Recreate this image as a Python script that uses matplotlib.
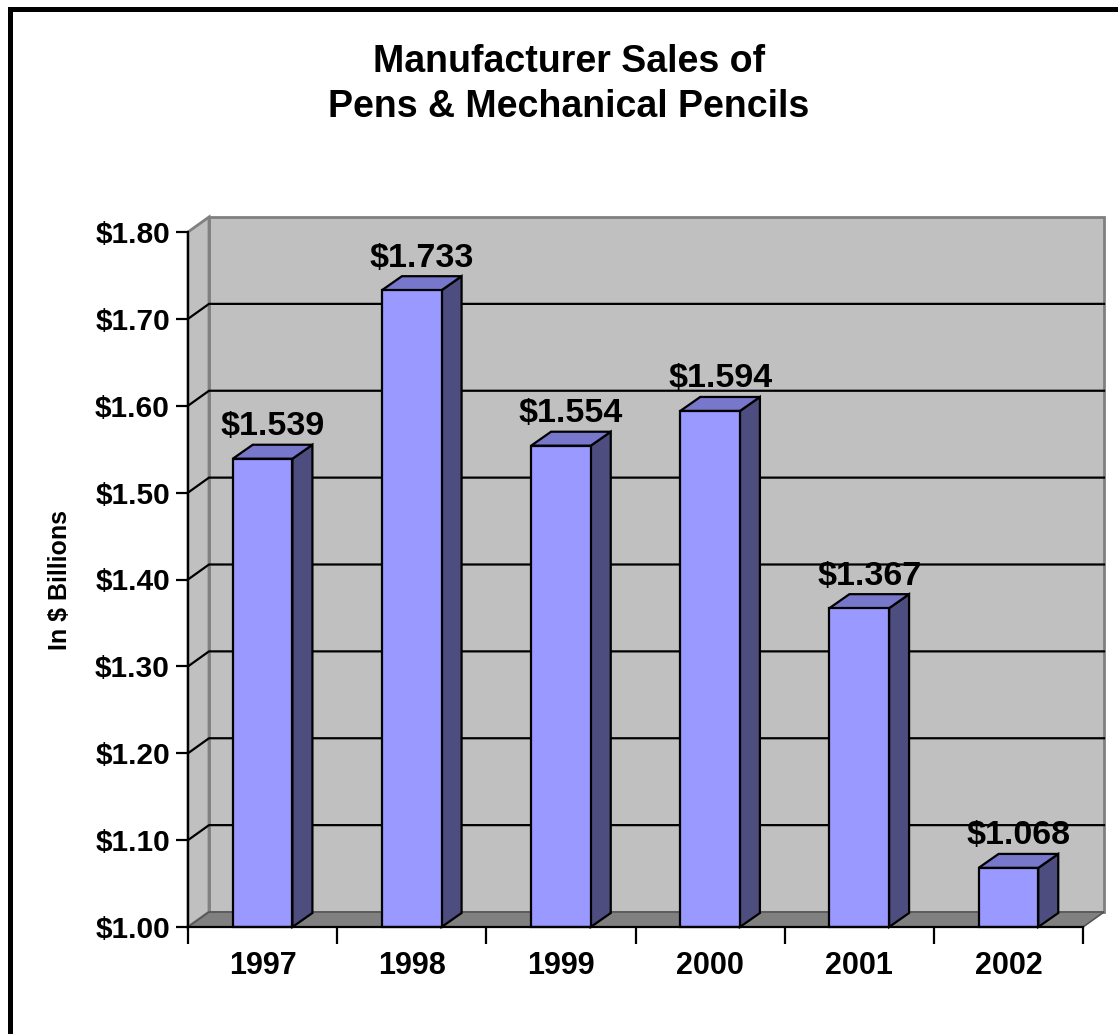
import matplotlib
matplotlib.use("Agg")
import matplotlib.pyplot as plt
from matplotlib.patches import Polygon, Rectangle

plt.rcParams['font.family'] = ['Liberation Sans', 'DejaVu Sans']
plt.rcParams['font.weight'] = 'bold'

years = ['1997', '1998', '1999', '2000', '2001', '2002']
sales = [1.539, 1.733, 1.554, 1.594, 1.367, 1.068]
labels = ['$1.539', '$1.733', '$1.554', '$1.594', '$1.367', '$1.068']
yticks = [1.0, 1.1, 1.2, 1.3, 1.4, 1.5, 1.6, 1.7, 1.8]

W, H = 1118, 1034
fig = plt.figure(figsize=(W / 100, H / 100), dpi=100)

# front plane of the chart in pixels
x0, x1, y0, y1 = 188, 1083, 927, 232
ax = fig.add_axes([x0 / W, (H - y0) / H, (x1 - x0) / W, (y0 - y1) / H])
ax.set_xlim(0, 6)
ax.set_ylim(1.0, 1.8)
ax.patch.set_visible(False)

# depth offsets (pixels -> data)
px_x = 6 / (x1 - x0)
px_y = 0.8 / (y0 - y1)
DX, DY = 21 * px_x, 15 * px_y      # walls
BDX, BDY = 20 * px_x, 14 * px_y    # bars

wall = '#c0c0c0'
edge = '#808080'

# back wall, side wall and floor
ax.add_patch(Polygon([(DX, 1.0 + DY), (6 + DX, 1.0 + DY), (6 + DX, 1.8 + DY), (DX, 1.8 + DY)],
                     closed=True, fc=wall, ec=edge, lw=2, clip_on=False, zorder=1))
ax.add_patch(Polygon([(0, 1.0), (DX, 1.0 + DY), (DX, 1.8 + DY), (0, 1.8)],
                     closed=True, fc=wall, ec=edge, lw=2, clip_on=False, zorder=1))
ax.add_patch(Polygon([(0, 1.0), (6, 1.0), (6 + DX, 1.0 + DY), (DX, 1.0 + DY)],
                     closed=True, fc='#808080', ec='#555555', lw=1.2, clip_on=False, zorder=2))

# gridlines on the walls
for v in yticks[1:-1]:
    ax.plot([0, DX, 6 + DX], [v, v + DY, v + DY], color='black', lw=1.6,
            clip_on=False, zorder=2)

# 3D bars
w = 0.4
for i, v in enumerate(sales):
    a, b = i + 0.5 - w / 2, i + 0.5 + w / 2
    front = Polygon([(a, 1.0), (b, 1.0), (b, v), (a, v)], closed=True,
                    fc='#9999ff', ec='black', lw=1.6, clip_on=False, zorder=4)
    side = Polygon([(b, 1.0), (b + BDX, 1.0 + BDY), (b + BDX, v + BDY), (b, v)], closed=True,
                   fc='#4d4d80', ec='black', lw=1.6, clip_on=False, zorder=3)
    top = Polygon([(a, v), (b, v), (b + BDX, v + BDY), (a + BDX, v + BDY)], closed=True,
                  fc='#7777cc', ec='black', lw=1.6, clip_on=False, zorder=3)
    for p in (side, top, front):
        ax.add_patch(p)
    ax.text(i + 0.5 + BDX / 2, v + 32 * px_y, labels[i], ha='center', va='center',
            fontsize=24.5, fontweight='bold', zorder=6, clip_on=False)

# axes
for s in ('top', 'right'):
    ax.spines[s].set_visible(False)
ax.spines['left'].set_linewidth(1.6)
ax.spines['bottom'].set_linewidth(1.6)
ax.spines['left'].set_zorder(5)
ax.spines['bottom'].set_zorder(5)
ax.set_yticks(yticks)
ax.set_yticklabels(['$%.2f' % t for t in yticks])
ax.set_xticks(range(7))
ax.set_xticklabels([])
ax.set_xticks([i + 0.5 for i in range(6)], minor=True)
ax.set_xticklabels(years, minor=True)
ax.tick_params(axis='y', direction='out', length=9, width=1.6, labelsize=21.5, pad=4)
ax.tick_params(axis='x', which='major', direction='out', length=12, width=1.6)
ax.tick_params(axis='x', which='minor', length=0, labelsize=22, pad=17)
for t in ax.get_yticklabels() + ax.get_xticklabels(minor=True):
    t.set_fontweight('bold')

fig.text(60 / W, 1 - 580 / H, 'In $ Billions', rotation=90, ha='center', va='center',
         fontsize=18, fontweight='bold')

fig.text(569 / W, 1 - 62 / H, 'Manufacturer Sales of', ha='center', va='center',
         fontsize=27, fontweight='bold')
fig.text(569 / W, 1 - 107 / H, 'Pens & Mechanical Pencils', ha='center', va='center',
         fontsize=27, fontweight='bold')

# chart border
fig.patches.append(Rectangle((10 / W, -0.1), 1.2, 1 - 9 / H + 0.1, transform=fig.transFigure,
                             fill=False, ec='black', lw=3.6))

fig.savefig('out.png', dpi=100)
